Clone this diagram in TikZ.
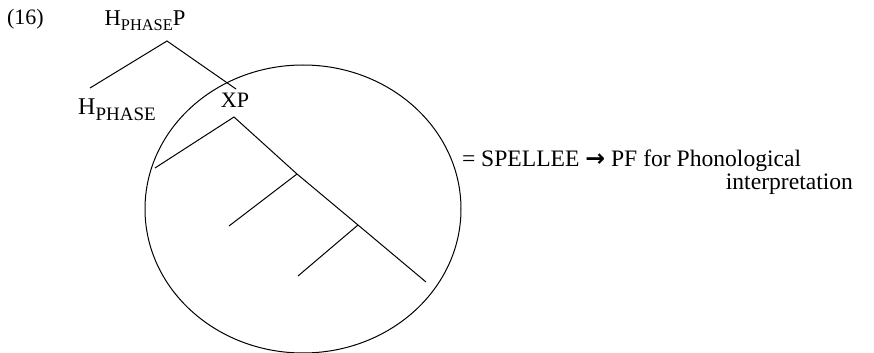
\documentclass[tikz,border=0pt]{standalone}
\usepackage{fontspec}
\setmainfont{Liberation Serif}
\newfontfamily\arrowfont{DejaVu Sans}
\usetikzlibrary{positioning}

\newcommand{\phasehead}[3]{{\fontsize{#1}{#1}\selectfont H}\raisebox{-#3}{\fontsize{#2}{#2}\selectfont PHASE}}

\begin{document}
\begin{tikzpicture}[
  x=0.5pt, y=-0.5pt,
  every node/.style={inner sep=0pt, outer sep=0pt},
  label/.style={font=\fontsize{11}{13}\selectfont, anchor=base},
  gloss/.style={font=\fontsize{11.8}{13}\selectfont, anchor=base west},
  branch/.style={draw, line width=0.5pt}
]
\useasboundingbox (0,0) rectangle (874,353);

\node[label, anchor=base west] (num) at (7,25) {(16)};
\node[label] (hpp) at (145,26) {\phasehead{11.3pt}{8.2pt}{2.2pt}{\fontsize{11.3}{13}\selectfont P}};
\node[label] (hph) at (117,115) {\phasehead{12pt}{9.5pt}{2.6pt}};
\node[label] (xp) at (235,108) {XP};

\coordinate (top) at (167,41);
\coordinate (spec) at (90,88);
\coordinate (comp) at (236,89);
\draw[branch] (spec) -- (top) -- (comp);

\coordinate (xtop) at (234,117);
\coordinate (xspec) at (155,168);
\coordinate (j1) at (297,174);
\coordinate (j2) at (358,225);
\coordinate (xend) at (426,282);
\draw[branch] (xspec) -- (xtop) -- (j1) -- (j2) -- (xend);
\draw[branch] (j1) -- (229,226);
\draw[branch] (j2) -- (298,276);

\draw[branch] (303,209) ellipse [x radius=158, y radius=144];

\node[gloss] (pf) at (462,167) {= SPELLEE {\arrowfont\textbf{→}} PF for Phonological};
\node[gloss, anchor=base east] (interp) at (853,190) {interpretation};
\end{tikzpicture}
\end{document}
